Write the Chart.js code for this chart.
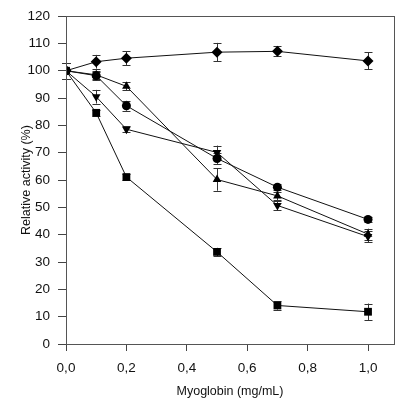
<!DOCTYPE html>
<html>
<head>
<meta charset="utf-8">
<script src="https://cdn.jsdelivr.net/npm/chart.js@4"></script>
<style>
  html, body { margin: 0; padding: 0; background: #fff; }
  #wrap { width: 404px; height: 401px; }
</style>
</head>
<body>
<div id="wrap"><canvas id="chart" width="404" height="401"></canvas></div>
<script>
'use strict';

// Myoglobin concentration (mg/mL)
const doses = [0, 0.1, 0.2, 0.5, 0.7, 1.0];

// Relative activity (%) per series, with error bars
const diamondVals = [100, 103.3, 104.6, 106.8, 107.1, 103.6];
const diamondErr  = [3, 2.5, 2.5, 3.4, 1.8, 3.1];
const circleVals  = [100, 98.2, 87.2, 67.9, 57.4, 45.6];
const circleErr   = [3, 1.5, 1.8, 2, 1, 1];
const triUpVals   = [100, 98.5, 94.3, 60.2, 54.2, 40.2];
const triUpErr    = [3, 1.5, 1.5, 4.1, 1.5, 2];
const triDownVals = [100, 90.5, 78.6, 70.1, 50.7, 39.3];
const triDownErr  = [3, 2.5, 1, 2.5, 1.5, 2];
const squareVals  = [100, 84.6, 61.1, 33.7, 14.1, 11.8];
const squareErr   = [3, 1, 1, 1.5, 1.5, 3];

const xTicks = [0, 0.2, 0.4, 0.6, 0.8, 1.0];

function points(vals, errs) {
    return doses.map((x, i) => ({x: x, y: vals[i], err: errs[i]}));
}

function series(label, vals, errs, style, radius, rotation) {
    return {
        label: label,
        data: points(vals, errs),
        borderColor: '#111',
        borderWidth: 1,
        backgroundColor: '#000',
        pointStyle: style,
        pointRadius: radius,
        pointRotation: rotation || 0,
        pointBorderWidth: 0,
        pointBackgroundColor: '#000',
        tension: 0,
    };
}

// Error bars and the frame around the plot, drawn with the chart's own scales.
const extras = {
    id: 'extras',
    beforeDatasetsDraw(chart) {
        const ctx = chart.ctx;
        const xs = chart.scales.x, ys = chart.scales.y;
        ctx.save();
        ctx.strokeStyle = '#333';
        ctx.lineWidth = 1;
        for (let ds of chart.data.datasets) {
            for (let p of ds.data) {
                let px = Math.round(xs.getPixelForValue(p.x)) + 0.5;
                let top = ys.getPixelForValue(p.y + p.err);
                let bot = ys.getPixelForValue(p.y - p.err);
                ctx.beginPath();
                ctx.moveTo(px, top);
                ctx.lineTo(px, bot);
                ctx.moveTo(px - 4, Math.round(top) + 0.5);
                ctx.lineTo(px + 4, Math.round(top) + 0.5);
                ctx.moveTo(px - 4, Math.round(bot) + 0.5);
                ctx.lineTo(px + 4, Math.round(bot) + 0.5);
                ctx.stroke();
            }
        }
        ctx.restore();
    },
    afterDraw(chart) {
        const ctx = chart.ctx;
        const a = chart.chartArea;
        ctx.save();
        ctx.strokeStyle = '#555';
        ctx.lineWidth = 1;
        ctx.strokeRect(Math.round(a.left) + 0.5, Math.round(a.top) + 0.5,
                       Math.round(a.right - a.left), Math.round(a.bottom - a.top));
        ctx.restore();
    }
};

const font = {family: '"Liberation Sans", Arial, sans-serif', size: 13.5};

new Chart(document.getElementById('chart'), {
    type: 'line',
    data: {
        datasets: [
            series('diamond', diamondVals, diamondErr, 'rectRot', 5.5),
            series('circle', circleVals, circleErr, 'circle', 4.5),
            series('triangle up', triUpVals, triUpErr, 'triangle', 5),
            series('triangle down', triDownVals, triDownErr, 'triangle', 5, 180),
            series('square', squareVals, squareErr, 'rect', 5.5),
        ],
    },
    options: {
        responsive: false,
        animation: false,
        layout: {padding: {top: 14, right: 10, left: 0, bottom: 0}},
        plugins: {
            legend: {display: false},
            tooltip: {enabled: false},
        },
        scales: {
            x: {
                type: 'linear',
                min: 0,
                max: 1.086,
                afterBuildTicks: (s) => { s.ticks = xTicks.map(v => ({value: v})); },
                afterFit: (s) => { s.height = 57; },
                ticks: {
                    font: font,
                    color: '#111',
                    padding: 9,
                    callback: (v) => v.toFixed(1).replace('.', ','),
                },
                grid: {
                    drawOnChartArea: false,
                    tickLength: 7,
                    color: '#444',
                },
                border: {color: '#444'},
                title: {
                    display: true,
                    text: 'Myoglobin (mg/mL)',
                    font: {family: font.family, size: 12.5},
                    color: '#111',
                    padding: {top: 0, bottom: 2},
                },
            },
            y: {
                min: 0,
                max: 120,
                afterFit: (s) => { s.width = 66; },
                ticks: {
                    stepSize: 10,
                    font: font,
                    color: '#111',
                    padding: 8,
                },
                grid: {
                    drawOnChartArea: false,
                    tickLength: 8,
                    color: '#444',
                },
                border: {color: '#444'},
                title: {
                    display: true,
                    text: 'Relative activity (%)',
                    font: {family: font.family, size: 12.5},
                    color: '#111',
                    padding: {top: 19, bottom: 0},
                },
            },
        },
    },
    plugins: [extras],
});
</script>
</body>
</html>
